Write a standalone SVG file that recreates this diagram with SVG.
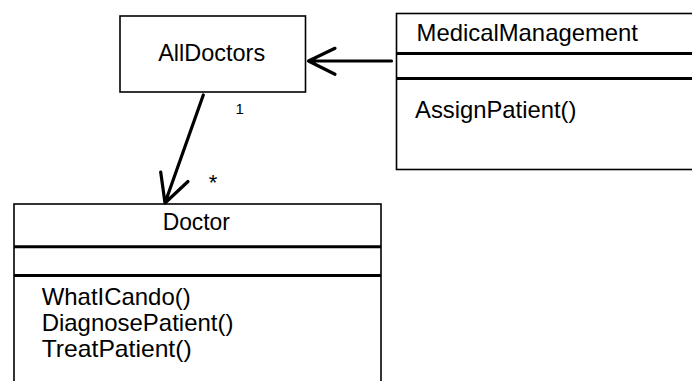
<svg xmlns="http://www.w3.org/2000/svg" width="692" height="381" viewBox="0 0 692 381">
<style>
.box{fill:#fff;stroke:#000;stroke-width:1.6}
.div{stroke:#000;stroke-width:3}
.t{font-family:"Liberation Sans",Arial,sans-serif;font-size:23.8px;fill:#000}
.s{font-family:"Liberation Sans",Arial,sans-serif;fill:#000}
.c{fill:none;stroke:#000;stroke-width:3.2;stroke-linecap:round;stroke-linejoin:round}
</style>
<rect width="692" height="381" fill="#fff"/>
<g id="AllDoctors">
<rect class="box" x="120" y="16" width="185.5" height="76"/>
<text class="t" x="211.7" y="61" text-anchor="middle" textLength="107" lengthAdjust="spacingAndGlyphs">AllDoctors</text>
</g>
<g id="MedicalManagement">
<rect class="box" x="396.5" y="13.5" width="300" height="156"/>
<line class="div" x1="396.5" y1="53.5" x2="692" y2="53.5"/>
<line class="div" x1="396.5" y1="78.5" x2="692" y2="78.5"/>
<text class="t" x="416.5" y="40.5" textLength="221.5" lengthAdjust="spacingAndGlyphs">MedicalManagement</text>
<text class="t" x="415" y="117.5" textLength="161.5" lengthAdjust="spacingAndGlyphs">AssignPatient()</text>
</g>
<g id="Doctor">
<rect class="box" x="14" y="204" width="367" height="200"/>
<line class="div" x1="14" y1="246.7" x2="381" y2="246.7"/>
<line class="div" x1="14" y1="275.5" x2="381" y2="275.5"/>
<text class="t" x="196.3" y="230" text-anchor="middle" textLength="67.3" lengthAdjust="spacingAndGlyphs">Doctor</text>
<text class="t" x="41.7" y="305" textLength="149" lengthAdjust="spacingAndGlyphs">WhatICando()</text>
<text class="t" x="41.7" y="330.5" textLength="191.7" lengthAdjust="spacingAndGlyphs">DiagnosePatient()</text>
<text class="t" x="41.7" y="356.5" textLength="150" lengthAdjust="spacingAndGlyphs">TreatPatient()</text>
</g>
<g id="connectors">
<path class="c" d="M391.5 61 H308.5 M335 48.3 L308.5 61 L335 74.3"/>
<path class="c" d="M203.3 95 L165 203 M160.7 172 L165 203 L188 181.5"/>
<text class="s" x="239.7" y="114" font-size="15" text-anchor="middle">1</text>
<text class="s" x="213" y="190" font-size="22" text-anchor="middle">*</text>
</g>
</svg>
